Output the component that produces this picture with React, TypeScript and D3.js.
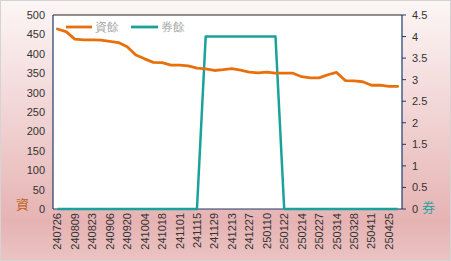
import React from "react";
import * as d3 from "d3";

const categories = [
  "240726","240802","240809","240816","240823","240830","240906","240913","240920","240927",
  "241004","241011","241018","241025","241101","241108","241115","241122","241129","241206",
  "241213","241220","241227","250103","250110","250117","250122","250207","250214","250221",
  "250227","250307","250314","250321","250328","250403","250411","250418","250425","250430",
];
const marginBalance = [
  464,457,438,436,436,435,432,429,418,397,
  387,378,377,371,371,369,363,361,357,359,
  362,358,353,351,353,350,350,350,341,338,
  338,346,352,331,330,328,319,319,316,316,
];
const shortBalance = [
  0,0,0,0,0,0,0,0,0,0,
  0,0,0,0,0,0,0,4,4,4,
  4,4,4,4,4,4,0,0,0,0,
  0,0,0,0,0,0,0,0,0,0,
];
const leftTicks = [0,50,100,150,200,250,300,350,400,450,500];
const rightTicks = [0,0.5,1,1.5,2,2.5,3,3.5,4,4.5];
const seriesNames = ["資餘","券餘"];

const W = 451, H = 261;
const L = 53, R = 402, T = 15, B = 209;
const ORANGE = "#e8700c";
const TEAL = "#19a29c";
const NAVY = "#1f3a6e";
const TXT = "#333333";
const FONT = "'Liberation Sans', Arial, sans-serif";

export default function App() {
  const x = d3.scaleBand<string>().domain(categories).range([L, R]);
  const xc = (i: number) => (x(categories[i]) as number) + x.bandwidth() / 2;
  const yL = d3.scaleLinear().domain([0, 500]).range([B, T]);
  const yR = d3.scaleLinear().domain([0, 4.5]).range([B, T]);
  const lineL = d3.line<number>().x((_, i) => xc(i)).y((d) => yL(d));
  const lineR = d3.line<number>().x((_, i) => xc(i)).y((d) => yR(d));

  return (
    <svg width={W} height={H} style={{ position: "absolute", left: 0, top: 0 }} fontFamily={FONT}>
      <defs>
        <linearGradient id="bg" x1="0" y1="0" x2="0" y2="1">
          <stop offset="0" stopColor="#fdf6f6" />
          <stop offset="0.45" stopColor="#f1d3d3" />
          <stop offset="0.85" stopColor="#e6b3b3" />
          <stop offset="1" stopColor="#ebc3c3" />
        </linearGradient>
      </defs>
      <rect x={0.5} y={0.5} width={W - 1} height={H - 1} fill="url(#bg)" stroke="#d4d4d4" />
      <rect x={L} y={T} width={R - L} height={B - T} fill="#ffffff" />
      <line x1={L} x2={R} y1={T} y2={T} stroke="#222" strokeWidth={1} />
      <line x1={L} x2={L} y1={T} y2={B} stroke={NAVY} strokeWidth={1.2} />
      <line x1={R} x2={R} y1={T} y2={B} stroke={NAVY} strokeWidth={1.2} />
      <line x1={L} x2={R} y1={B} y2={B} stroke={NAVY} strokeWidth={1.2} />

      {leftTicks.map((t) => (
        <text key={"l" + t} x={45} y={yL(t) + 4} textAnchor="end" fontSize={11} fill={TXT}>{t}</text>
      ))}
      {rightTicks.map((t) => (
        <g key={"r" + t}>
          <line x1={R} x2={R + 4} y1={yR(t)} y2={yR(t)} stroke={NAVY} strokeWidth={1} />
          <text x={412} y={yR(t) + 4} textAnchor="start" fontSize={11} fill={TXT}>{t}</text>
        </g>
      ))}
      {categories.map((c, i) =>
        i % 2 === 0 ? (
          <text key={c} transform={`translate(${xc(i) + 4},${213}) rotate(-90)`} textAnchor="end" fontSize={11} fill={TXT}>{c}</text>
        ) : null
      )}

      <path d={lineR(shortBalance) || ""} fill="none" stroke={TEAL} strokeWidth={2.5} strokeLinejoin="round" />
      <path d={lineL(marginBalance) || ""} fill="none" stroke={ORANGE} strokeWidth={2.8} strokeLinejoin="round" strokeLinecap="round" />

      <line x1={66} x2={92} y1={27} y2={27} stroke={ORANGE} strokeWidth={2.8} />
      <text x={95} y={31} fontSize={12} fill="#a6a6a6">{seriesNames[0]}</text>
      <line x1={131} x2={158} y1={27} y2={27} stroke={TEAL} strokeWidth={2.8} />
      <text x={161} y={31} fontSize={12} fill="#a6a6a6">{seriesNames[1]}</text>

      <text x={16} y={209} fontSize={13} fill="#c0651f" fontFamily="'Noto Sans CJK TC', serif">資</text>
      <text x={422} y={212} fontSize={13} fill="#2aa3a0" fontFamily="'Noto Sans CJK TC', serif">券</text>
    </svg>
  );
}
